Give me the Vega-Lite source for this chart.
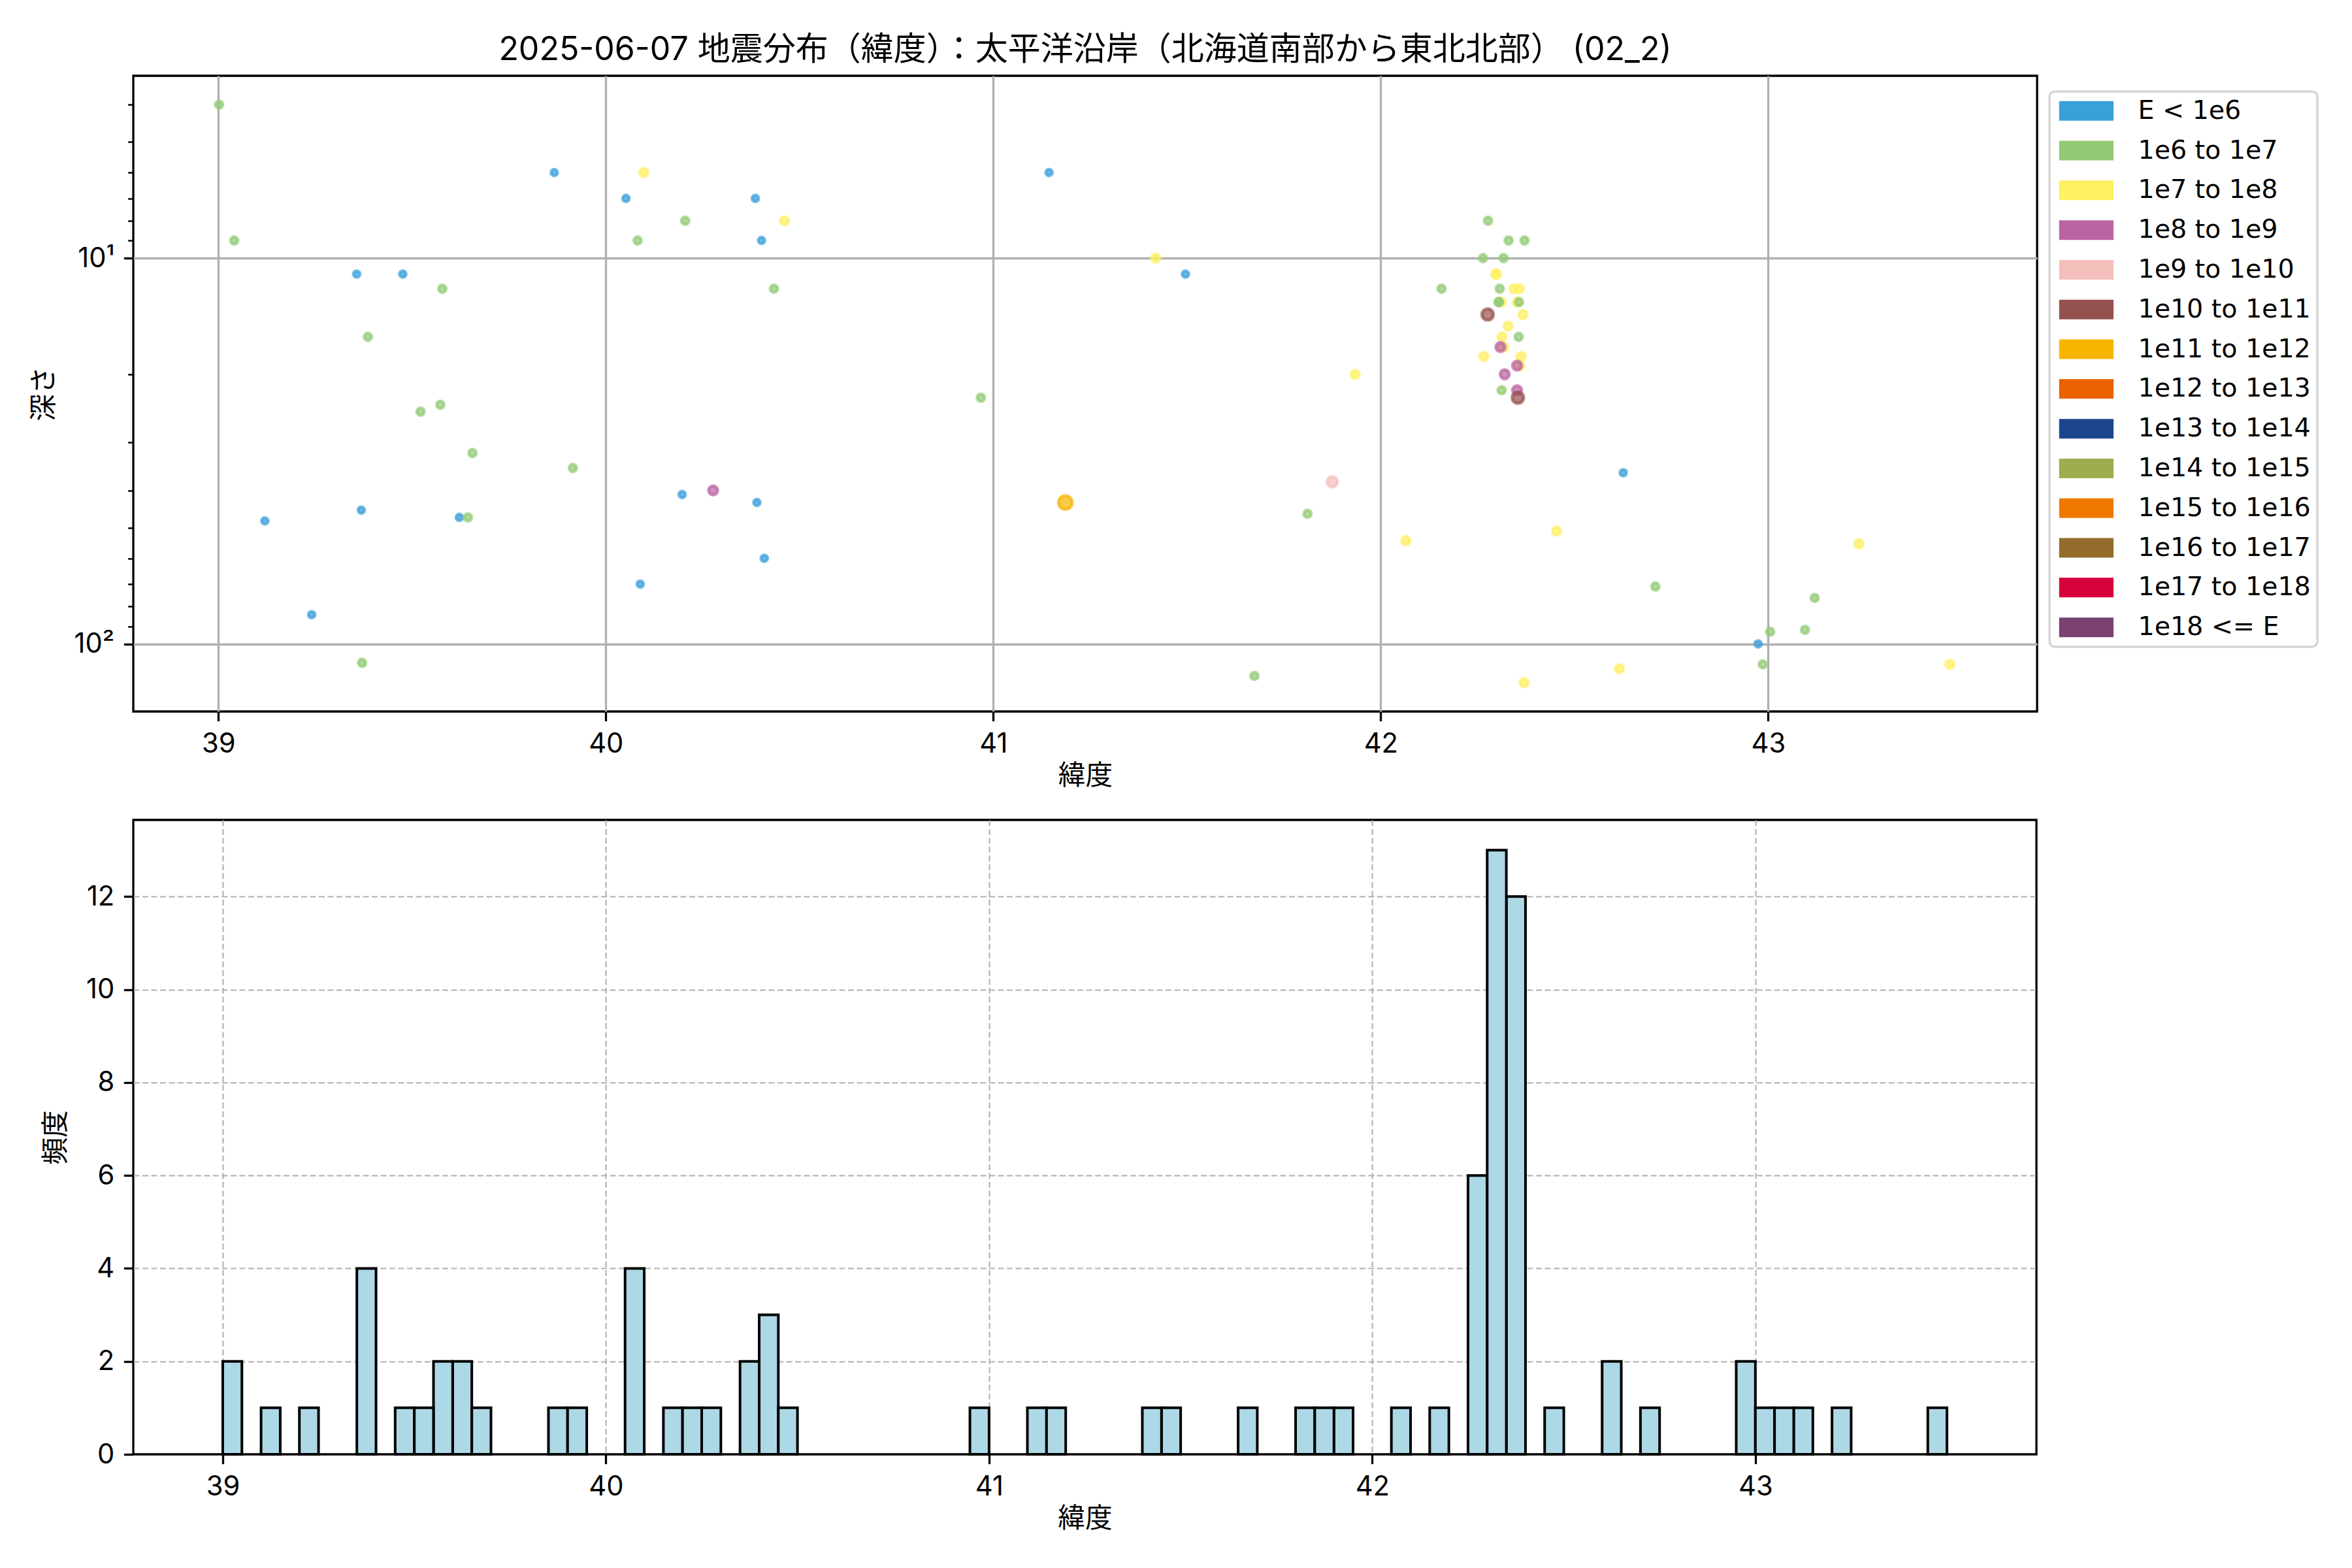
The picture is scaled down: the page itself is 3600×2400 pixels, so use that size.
{
  "$schema": "https://vega.github.io/schema/vega-lite/v6.json",
  "background": "white",
  "padding": {"left": 45, "top": 50, "right": 0, "bottom": 0},
  "spacing": 41,
  "config": {
    "font": "Inter, Noto Sans CJK JP",
    "view": {"stroke": "black", "strokeWidth": 3.3},
    "axis": {
      "domain": false, "tickColor": "black", "tickSize": 14.6, "tickWidth": 3.3,
      "labelFontSize": 41.7, "labelColor": "black", "labelFont": "Inter, Noto Sans CJK JP", "labelPadding": 14.6,
      "titleFontSize": 41.7, "titleFontWeight": "normal", "titleColor": "black", "titleFont": "Inter, Noto Sans CJK JP",
      "gridColor": "#b0b0b0", "gridWidth": 3.3, "gridOpacity": 1, "zindex": 1, "labelFlush": false
    },
    "legend": {"strokeWidth": 3}
  },
  "datasets": {
    "quakes": [
      {"lat": 39.867, "depth": 6, "E": "E < 1e6"},
      {"lat": 40.052, "depth": 7, "E": "E < 1e6"},
      {"lat": 39.357, "depth": 11, "E": "E < 1e6"},
      {"lat": 39.476, "depth": 11, "E": "E < 1e6"},
      {"lat": 40.197, "depth": 41, "E": "E < 1e6"},
      {"lat": 39.120, "depth": 48, "E": "E < 1e6"},
      {"lat": 39.369, "depth": 45, "E": "E < 1e6"},
      {"lat": 39.622, "depth": 47, "E": "E < 1e6"},
      {"lat": 40.089, "depth": 70, "E": "E < 1e6"},
      {"lat": 39.241, "depth": 84, "E": "E < 1e6"},
      {"lat": 40.386, "depth": 7, "E": "E < 1e6"},
      {"lat": 40.402, "depth": 9, "E": "E < 1e6"},
      {"lat": 40.390, "depth": 43, "E": "E < 1e6"},
      {"lat": 40.409, "depth": 60, "E": "E < 1e6"},
      {"lat": 41.144, "depth": 6, "E": "E < 1e6"},
      {"lat": 41.496, "depth": 11, "E": "E < 1e6"},
      {"lat": 42.626, "depth": 36, "E": "E < 1e6"},
      {"lat": 42.974, "depth": 100, "E": "E < 1e6"},
      {"lat": 40.098, "depth": 6, "E": "1e7 to 1e8"},
      {"lat": 40.461, "depth": 8, "E": "1e7 to 1e8"},
      {"lat": 41.419, "depth": 10, "E": "1e7 to 1e8"},
      {"lat": 41.934, "depth": 20, "E": "1e7 to 1e8"},
      {"lat": 42.065, "depth": 54, "E": "1e7 to 1e8"},
      {"lat": 42.454, "depth": 51, "E": "1e7 to 1e8"},
      {"lat": 42.616, "depth": 116, "E": "1e7 to 1e8"},
      {"lat": 42.370, "depth": 126, "E": "1e7 to 1e8"},
      {"lat": 43.234, "depth": 55, "E": "1e7 to 1e8"},
      {"lat": 43.469, "depth": 113, "E": "1e7 to 1e8"},
      {"lat": 42.298, "depth": 11, "E": "1e7 to 1e8"},
      {"lat": 42.298, "depth": 11, "E": "1e7 to 1e8"},
      {"lat": 42.344, "depth": 12, "E": "1e7 to 1e8"},
      {"lat": 42.358, "depth": 12, "E": "1e7 to 1e8"},
      {"lat": 42.311, "depth": 13, "E": "1e7 to 1e8"},
      {"lat": 42.352, "depth": 13, "E": "1e7 to 1e8"},
      {"lat": 42.367, "depth": 14, "E": "1e7 to 1e8"},
      {"lat": 42.329, "depth": 15, "E": "1e7 to 1e8"},
      {"lat": 42.313, "depth": 16, "E": "1e7 to 1e8"},
      {"lat": 42.318, "depth": 17, "E": "1e7 to 1e8"},
      {"lat": 42.266, "depth": 18, "E": "1e7 to 1e8"},
      {"lat": 42.362, "depth": 18, "E": "1e7 to 1e8"},
      {"lat": 42.360, "depth": 19, "E": "1e7 to 1e8"},
      {"lat": 39.002, "depth": 4, "E": "1e6 to 1e7"},
      {"lat": 39.041, "depth": 9, "E": "1e6 to 1e7"},
      {"lat": 40.205, "depth": 8, "E": "1e6 to 1e7"},
      {"lat": 40.082, "depth": 9, "E": "1e6 to 1e7"},
      {"lat": 39.578, "depth": 12, "E": "1e6 to 1e7"},
      {"lat": 39.386, "depth": 16, "E": "1e6 to 1e7"},
      {"lat": 39.522, "depth": 25, "E": "1e6 to 1e7"},
      {"lat": 39.573, "depth": 24, "E": "1e6 to 1e7"},
      {"lat": 39.656, "depth": 32, "E": "1e6 to 1e7"},
      {"lat": 39.915, "depth": 35, "E": "1e6 to 1e7"},
      {"lat": 39.644, "depth": 47, "E": "1e6 to 1e7"},
      {"lat": 39.371, "depth": 112, "E": "1e6 to 1e7"},
      {"lat": 40.434, "depth": 12, "E": "1e6 to 1e7"},
      {"lat": 40.968, "depth": 23, "E": "1e6 to 1e7"},
      {"lat": 41.811, "depth": 46, "E": "1e6 to 1e7"},
      {"lat": 41.674, "depth": 121, "E": "1e6 to 1e7"},
      {"lat": 42.157, "depth": 12, "E": "1e6 to 1e7"},
      {"lat": 42.709, "depth": 71, "E": "1e6 to 1e7"},
      {"lat": 43.120, "depth": 76, "E": "1e6 to 1e7"},
      {"lat": 43.005, "depth": 93, "E": "1e6 to 1e7"},
      {"lat": 43.095, "depth": 92, "E": "1e6 to 1e7"},
      {"lat": 42.986, "depth": 113, "E": "1e6 to 1e7"},
      {"lat": 42.277, "depth": 8, "E": "1e6 to 1e7"},
      {"lat": 42.330, "depth": 9, "E": "1e6 to 1e7"},
      {"lat": 42.371, "depth": 9, "E": "1e6 to 1e7"},
      {"lat": 42.264, "depth": 10, "E": "1e6 to 1e7"},
      {"lat": 42.317, "depth": 10, "E": "1e6 to 1e7"},
      {"lat": 42.307, "depth": 12, "E": "1e6 to 1e7"},
      {"lat": 42.304, "depth": 13, "E": "1e6 to 1e7"},
      {"lat": 42.305, "depth": 13, "E": "1e6 to 1e7"},
      {"lat": 42.357, "depth": 13, "E": "1e6 to 1e7"},
      {"lat": 42.356, "depth": 16, "E": "1e6 to 1e7"},
      {"lat": 42.312, "depth": 22, "E": "1e6 to 1e7"},
      {"lat": 40.277, "depth": 40, "E": "1e8 to 1e9"},
      {"lat": 42.309, "depth": 17, "E": "1e8 to 1e9"},
      {"lat": 42.352, "depth": 19, "E": "1e8 to 1e9"},
      {"lat": 42.320, "depth": 20, "E": "1e8 to 1e9"},
      {"lat": 42.352, "depth": 22, "E": "1e8 to 1e9"},
      {"lat": 41.875, "depth": 38, "E": "1e9 to 1e10"},
      {"lat": 42.276, "depth": 14, "E": "1e10 to 1e11"},
      {"lat": 42.354, "depth": 23, "E": "1e10 to 1e11"},
      {"lat": 41.186, "depth": 43, "E": "1e11 to 1e12"}
    ]
  },
  "vconcat": [
    {
      "width": 2914,
      "height": 973,
      "title": {
        "text": "2025-06-07 地震分布（緯度）：太平洋沿岸（北海道南部から東北北部） (02_2)",
        "frame": "group", "anchor": "middle", "fontSize": 50, "font": "Inter, Noto Sans CJK JP",
        "fontWeight": "normal", "baseline": "alphabetic", "offset": -26, "color": "black"
      },
      "data": {"name": "quakes"},
      "mark": {"type": "point", "shape": "circle", "filled": true, "opacity": 1, "fillOpacity": 0.7, "strokeOpacity": 0.7, "strokeWidth": 5},
      "encoding": {
        "x": {
          "field": "lat", "type": "quantitative",
          "scale": {"domain": [38.7805, 43.694], "nice": false, "zero": false},
          "axis": {"values": [39, 40, 41, 42, 43], "format": "d", "title": "緯度", "titlePadding": 8}
        },
        "y": {
          "field": "depth", "type": "quantitative",
          "scale": {"type": "log", "domain": [3.367, 149.7], "nice": false, "reverse": true},
          "axis": {
            "values": [4, 5, 6, 7, 8, 9, 10, 20, 30, 40, 50, 60, 70, 80, 90, 100],
            "labelExpr": "datum.value == 10 ? '10¹' : (datum.value == 100 ? '10²' : '')",
            "tickSize": {"condition": {"test": "datum.value == 10 || datum.value == 100", "value": 14.6}, "value": 8.3},
            "tickWidth": {"condition": {"test": "datum.value == 10 || datum.value == 100", "value": 3.3}, "value": 2.5},
            "gridOpacity": {"condition": {"test": "datum.value == 10 || datum.value == 100", "value": 1}, "value": 0},
            "labelOverlap": false,
            "title": "深さ", "titlePadding": 24
          }
        },
        "fill": {
          "field": "E", "type": "nominal",
          "scale": {
            "domain": ["E < 1e6", "1e6 to 1e7", "1e7 to 1e8", "1e8 to 1e9", "1e9 to 1e10", "1e10 to 1e11", "1e11 to 1e12", "1e12 to 1e13", "1e13 to 1e14", "1e14 to 1e15", "1e15 to 1e16", "1e16 to 1e17", "1e17 to 1e18", "1e18 <= E"],
            "range": ["#3AA0DA", "#93CA76", "#FFF064", "#BB64A2", "#F4BFBB", "#955150", "#F7B500", "#EA6100", "#1B468C", "#9CAE50", "#EF7800", "#946C2C", "#D7003A", "#7A4171"]
          },
          "legend": {
            "orient": "none", "legendX": 2933, "legendY": 24, "title": null,
            "symbolType": "M-1,-1L4.55,-1L4.55,1L-1,1Z", "symbolSize": 900, "symbolStrokeWidth": 0, "symbolOpacity": 1,
            "labelFontSize": 39.5, "labelFont": "DejaVu Sans", "labelColor": "black", "labelOffset": 86,
            "rowPadding": 19.8, "padding": 10, "strokeColor": "#d0d0d0", "cornerRadius": 8, "fillColor": "white", "labelLimit": 0
          }
        },
        "stroke": {
          "field": "E", "type": "nominal",
          "scale": {
            "domain": ["E < 1e6", "1e6 to 1e7", "1e7 to 1e8", "1e8 to 1e9", "1e9 to 1e10", "1e10 to 1e11", "1e11 to 1e12", "1e12 to 1e13", "1e13 to 1e14", "1e14 to 1e15", "1e15 to 1e16", "1e16 to 1e17", "1e17 to 1e18", "1e18 <= E"],
            "range": ["#3AA0DA", "#93CA76", "#FFF064", "#BB64A2", "#F4BFBB", "#955150", "#F7B500", "#EA6100", "#1B468C", "#9CAE50", "#EF7800", "#946C2C", "#D7003A", "#7A4171"]
          },
          "legend": null
        },
        "size": {
          "field": "E", "type": "nominal",
          "scale": {
            "type": "ordinal",
            "domain": ["E < 1e6", "1e6 to 1e7", "1e7 to 1e8", "1e8 to 1e9", "1e9 to 1e10", "1e10 to 1e11", "1e11 to 1e12"],
            "range": [95, 123, 154, 189, 241, 299, 434]
          },
          "legend": null
        }
      }
    },
    {
      "width": 2913,
      "height": 971,
      "data": {"name": "quakes"},
      "transform": [
        {"bin": {"extent": [39, 43.5], "step": 0.05, "nice": false}, "field": "lat", "as": ["b0", "b1"]},
        {"aggregate": [{"op": "count", "as": "n"}], "groupby": ["b0", "b1"]}
      ],
      "mark": {"type": "bar", "fill": "#ADD8E6", "stroke": "black", "strokeWidth": 4, "orient": "vertical"},
      "encoding": {
        "x": {
          "field": "b0", "type": "quantitative",
          "scale": {"domain": [38.775, 43.725], "nice": false, "zero": false},
          "axis": {"values": [39, 40, 41, 42, 43], "format": "d", "title": "緯度", "titlePadding": 8, "gridDash": [9, 4.5], "gridWidth": 2.1}
        },
        "x2": {"field": "b1"},
        "y": {
          "field": "n", "type": "quantitative",
          "scale": {"domain": [0, 13.65], "nice": false},
          "axis": {
            "values": [0, 2, 4, 6, 8, 10, 12], "title": "頻度", "titlePadding": 24, "gridDash": [9, 4.5], "gridWidth": 2.1,
            "gridOpacity": {"condition": {"test": "datum.value == 0", "value": 0}, "value": 1}
          }
        },
        "y2": {"datum": 0}
      }
    }
  ]
}
